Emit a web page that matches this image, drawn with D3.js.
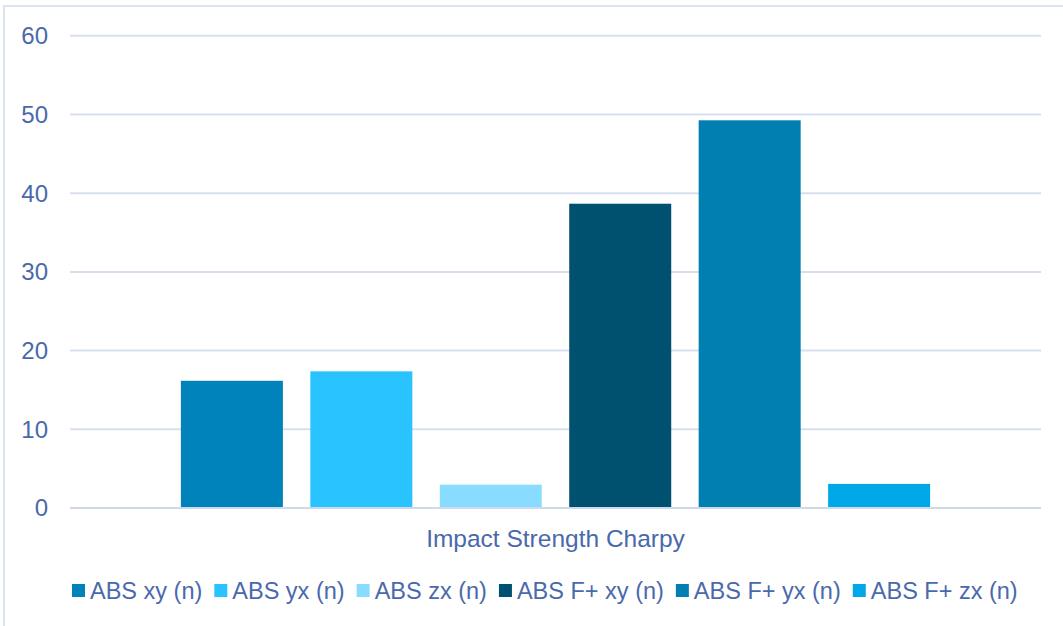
<!DOCTYPE html>
<html>
<head>
<meta charset="utf-8">
<script src="https://cdn.jsdelivr.net/npm/d3@7"></script>
<style>
  html, body { margin: 0; padding: 0; background: #ffffff; }
  svg { display: block; font-family: "Liberation Sans", Arial, Helvetica, sans-serif; }
</style>
</head>
<body>
<svg id="chart" width="1063" height="626"></svg>
<script>
// Impact strength (Charpy), one category, six specimen series
const categories = ["Impact Strength Charpy"];
const seriesNames = ["ABS xy (n)", "ABS yx (n)", "ABS zx (n)", "ABS F+ xy (n)", "ABS F+ yx (n)", "ABS F+ zx (n)"];
const seriesValues = [16.1, 17.3, 2.9, 38.6, 49.2, 3.0];
const seriesColors = ["#0083BB", "#29C3FF", "#88DCFF", "#00506F", "#017FB1", "#00A8E8"];
const yTicks = [0, 10, 20, 30, 40, 50, 60];

const textColor = "#4A69AB";
const gridColor = "#D7DFEF";

const svg = d3.select("#chart");
const W = 1063, H = 626;

// chart frame (runs off the right and bottom edges)
svg.append("rect")
  .attr("x", 4).attr("y", 6)
  .attr("width", W + 10).attr("height", H + 10)
  .attr("fill", "none")
  .attr("stroke", "#DCE3F0")
  .attr("stroke-width", 2);

const plot = { left: 70, right: 1041, top: 35.3, bottom: 507.5 };

const y = d3.scaleLinear().domain([0, 60]).range([plot.bottom, plot.top]);

const x0 = d3.scaleBand()
  .domain(categories)
  .range([plot.left, plot.right])
  .paddingInner(0)
  .paddingOuter(0.148);

const x1 = d3.scaleBand()
  .domain(seriesNames)
  .range([0, x0.bandwidth()])
  .paddingInner(0.212)
  .paddingOuter(0);

// gridlines
const yAxis = d3.axisLeft(y)
  .tickValues(yTicks)
  .tickSize(-(plot.right - plot.left))
  .tickPadding(22)
  .tickFormat(d3.format("d"));

const gAxis = svg.append("g")
  .attr("transform", `translate(${plot.left},0)`)
  .call(yAxis);
gAxis.select(".domain").remove();
gAxis.selectAll(".tick line")
  .attr("stroke", gridColor)
  .attr("stroke-width", 2);
gAxis.selectAll(".tick text")
  .attr("fill", textColor)
  .attr("font-size", 24)
  .attr("font-family", "Liberation Sans, Arial, sans-serif")
  .attr("dy", "0.35em");

// bars
const gBars = svg.append("g");
categories.forEach((cat) => {
  gBars.selectAll(null)
    .data(seriesNames.map((s, i) => ({ s, v: seriesValues[i], c: seriesColors[i] })))
    .enter()
    .append("rect")
    .attr("x", d => x0(cat) + x1(d.s))
    .attr("y", d => y(d.v))
    .attr("width", x1.bandwidth())
    .attr("height", d => y(0) - y(d.v))
    .attr("fill", d => d.c);
});

// baseline redrawn over bars
svg.append("line")
  .attr("x1", plot.left).attr("x2", plot.right)
  .attr("y1", y(0) + 0.5).attr("y2", y(0) + 0.5)
  .attr("stroke", "#D0D9EA")
  .attr("stroke-width", 2);

// category label
svg.append("text")
  .attr("x", x0(categories[0]) + x0.bandwidth() / 2)
  .attr("y", 546.5)
  .attr("text-anchor", "middle")
  .attr("fill", textColor)
  .attr("font-size", 24.5)
  .text(categories[0]);

// legend
const legend = svg.append("g").attr("class", "legend");
let lx = 72;
const sq = 13;
seriesNames.forEach((name, i) => {
  legend.append("rect")
    .attr("x", lx).attr("y", 584)
    .attr("width", sq).attr("height", sq)
    .attr("fill", seriesColors[i]);
  const t = legend.append("text")
    .attr("x", lx + sq + 5)
    .attr("y", 599)
    .attr("fill", textColor)
    .attr("font-size", 23.5)
    .text(name);
  lx = lx + sq + 5 + t.node().getComputedTextLength() + 12;
});
</script>
</body>
</html>
